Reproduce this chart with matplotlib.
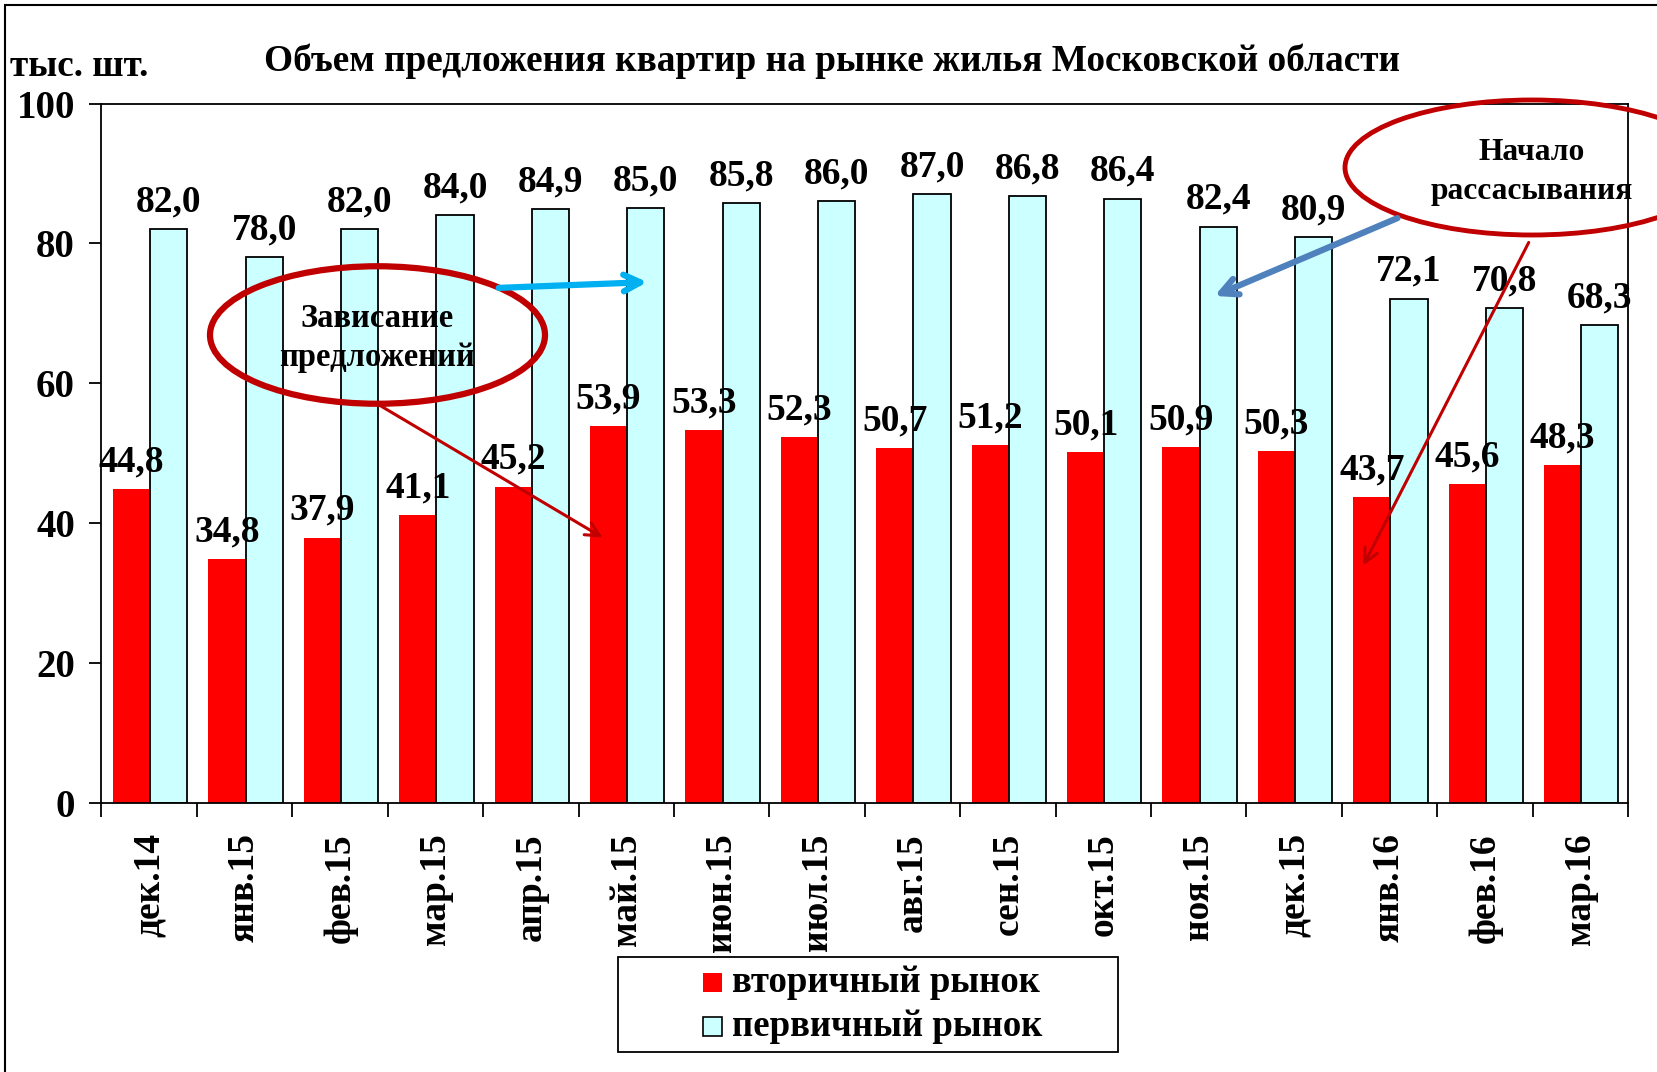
import numpy as np
import matplotlib.pyplot as plt
from matplotlib.patches import Ellipse, Rectangle, FancyArrowPatch

# Data
months = ['дек.14', 'янв.15', 'фев.15', 'мар.15', 'апр.15', 'май.15', 'июн.15', 'июл.15',
          'авг.15', 'сен.15', 'окт.15', 'ноя.15', 'дек.15', 'янв.16', 'фев.16', 'мар.16']
secondary = [44.8, 34.8, 37.9, 41.1, 45.2, 53.9, 53.3, 52.3, 50.7, 51.2, 50.1, 50.9, 50.3, 43.7, 45.6, 48.3]
primary = [82.0, 78.0, 82.0, 84.0, 84.9, 85.0, 85.8, 86.0, 87.0, 86.8, 86.4, 82.4, 80.9, 72.1, 70.8, 68.3]
series_names = ['вторичный рынок', 'первичный рынок']

plt.rcParams['font.family'] = ['Liberation Serif', 'DejaVu Serif']
plt.rcParams['font.weight'] = 'bold'

W, H = 1658, 1072
fig = plt.figure(figsize=(W / 100, H / 100), dpi=100)

def fx(px):
    return px / W

def fy(py):
    return 1 - py / H

# axes placed in pixel coords of the reference
ax = fig.add_axes([fx(101.5), fy(802.6), fx(1628 - 101.5), (802.6 - 103.6) / H])

red = '#FF0000'
cyan = '#CCFFFF'
x = np.arange(len(months))
bw = 0.39
red_x = x - 0.185
cyan_x = x + 0.205
ax.bar(red_x, secondary, width=bw, color=red, edgecolor='none', zorder=2)
ax.bar(cyan_x, primary, width=bw, color=cyan, edgecolor='black', linewidth=1.3, zorder=2)

for xi, v in zip(red_x, secondary):
    ax.annotate(f'{v:.1f}'.replace('.', ','), (xi, v), xytext=(0, 7), textcoords='offset points',
                ha='center', va='bottom', fontsize=27, fontweight='bold', zorder=4)
for xi, v in zip(cyan_x, primary):
    ax.annotate(f'{v:.1f}'.replace('.', ','), (xi, v), xytext=(0, 7), textcoords='offset points',
                ha='center', va='bottom', fontsize=27, fontweight='bold', zorder=4)

ax.set_xlim(-0.5, len(months) - 0.5)
ax.set_ylim(0, 100)
ax.set_yticks([0, 20, 40, 60, 80, 100])
ax.tick_params(axis='y', direction='out', length=9, width=1.3, labelsize=28, pad=10)
ax.set_xticks(x)
ax.set_xticklabels(months, rotation=90, fontsize=27, fontweight='bold')
ax.tick_params(axis='x', which='major', length=0, pad=22)
ax.set_xticks(np.arange(-0.5, len(months)), minor=True)
ax.tick_params(axis='x', which='minor', direction='out', length=10, width=1.3)
for lab in ax.get_yticklabels():
    lab.set_fontweight('bold')
for s in ax.spines.values():
    s.set_linewidth(1.3)

# titles
fig.text(fx(832), fy(61), 'Объем предложения квартир на рынке жилья Московской области',
         ha='center', va='center', fontsize=26.8, fontweight='bold')
fig.text(fx(10), fy(66), 'тыс. шт.', ha='left', va='center', fontsize=26.7, fontweight='bold')

# figure frame (left and top visible)
fig.add_artist(Rectangle((fx(5), -0.05), 1.1, fy(5) + 0.05, transform=fig.transFigure,
                         fill=False, edgecolor='black', linewidth=1.5))

# annotations
dark_red = '#C00000'
fig.add_artist(Ellipse((fx(377.5), fy(335)), fx(335), 137.5 / H, transform=fig.transFigure,
                       fill=False, edgecolor=dark_red, linewidth=4.5, zorder=5))
fig.text(fx(377.5), fy(338), 'Зависание\nпредложений', ha='center', va='center',
         fontsize=23.5, fontweight='bold', linespacing=1.3, zorder=6)
fig.add_artist(Ellipse((fx(1532), fy(167.5)), fx(374), 135 / H, transform=fig.transFigure,
                       fill=False, edgecolor=dark_red, linewidth=3.5, zorder=5))
fig.text(fx(1532), fy(172), 'Начало\nрассасывания', ha='center', va='center',
         fontsize=22.7, fontweight='bold', linespacing=1.45, zorder=6)

def arrow(p0, p1, color, lw, ms):
    fig.add_artist(FancyArrowPatch(
        (fx(p0[0]), fy(p0[1])), (fx(p1[0]), fy(p1[1])), transform=fig.transFigure,
        arrowstyle='->', mutation_scale=ms, color=color, linewidth=lw, zorder=6))

arrow((496, 288), (650, 282), '#00B0F0', 4.5, 30)
arrow((377.5, 404), (605, 539), dark_red, 2.2, 25)
arrow((1400, 217), (1212, 297), '#4F81BD', 4.5, 30)
arrow((1530, 240), (1362, 568), dark_red, 2.2, 25)

# legend, drawn by hand to match the wide padded box
fig.add_artist(Rectangle((fx(617.5), fy(1052)), fx(1117.6 - 617.5), (1052 - 957) / H,
                         transform=fig.transFigure, facecolor='white', edgecolor='black', linewidth=1.3))
leg_rows = [(982, red, 'none'), (1026, cyan, 'black')]
for (cy, fc, ec), name in zip(leg_rows, series_names):
    fig.add_artist(Rectangle((fx(703), fy(cy + 9.5)), fx(19), 19 / H, transform=fig.transFigure,
                             facecolor=fc, edgecolor=ec, linewidth=1.2))
    fig.text(fx(732), fy(cy), name, ha='left', va='center', fontsize=26.5, fontweight='bold')

fig.savefig('out.png', dpi=100)
